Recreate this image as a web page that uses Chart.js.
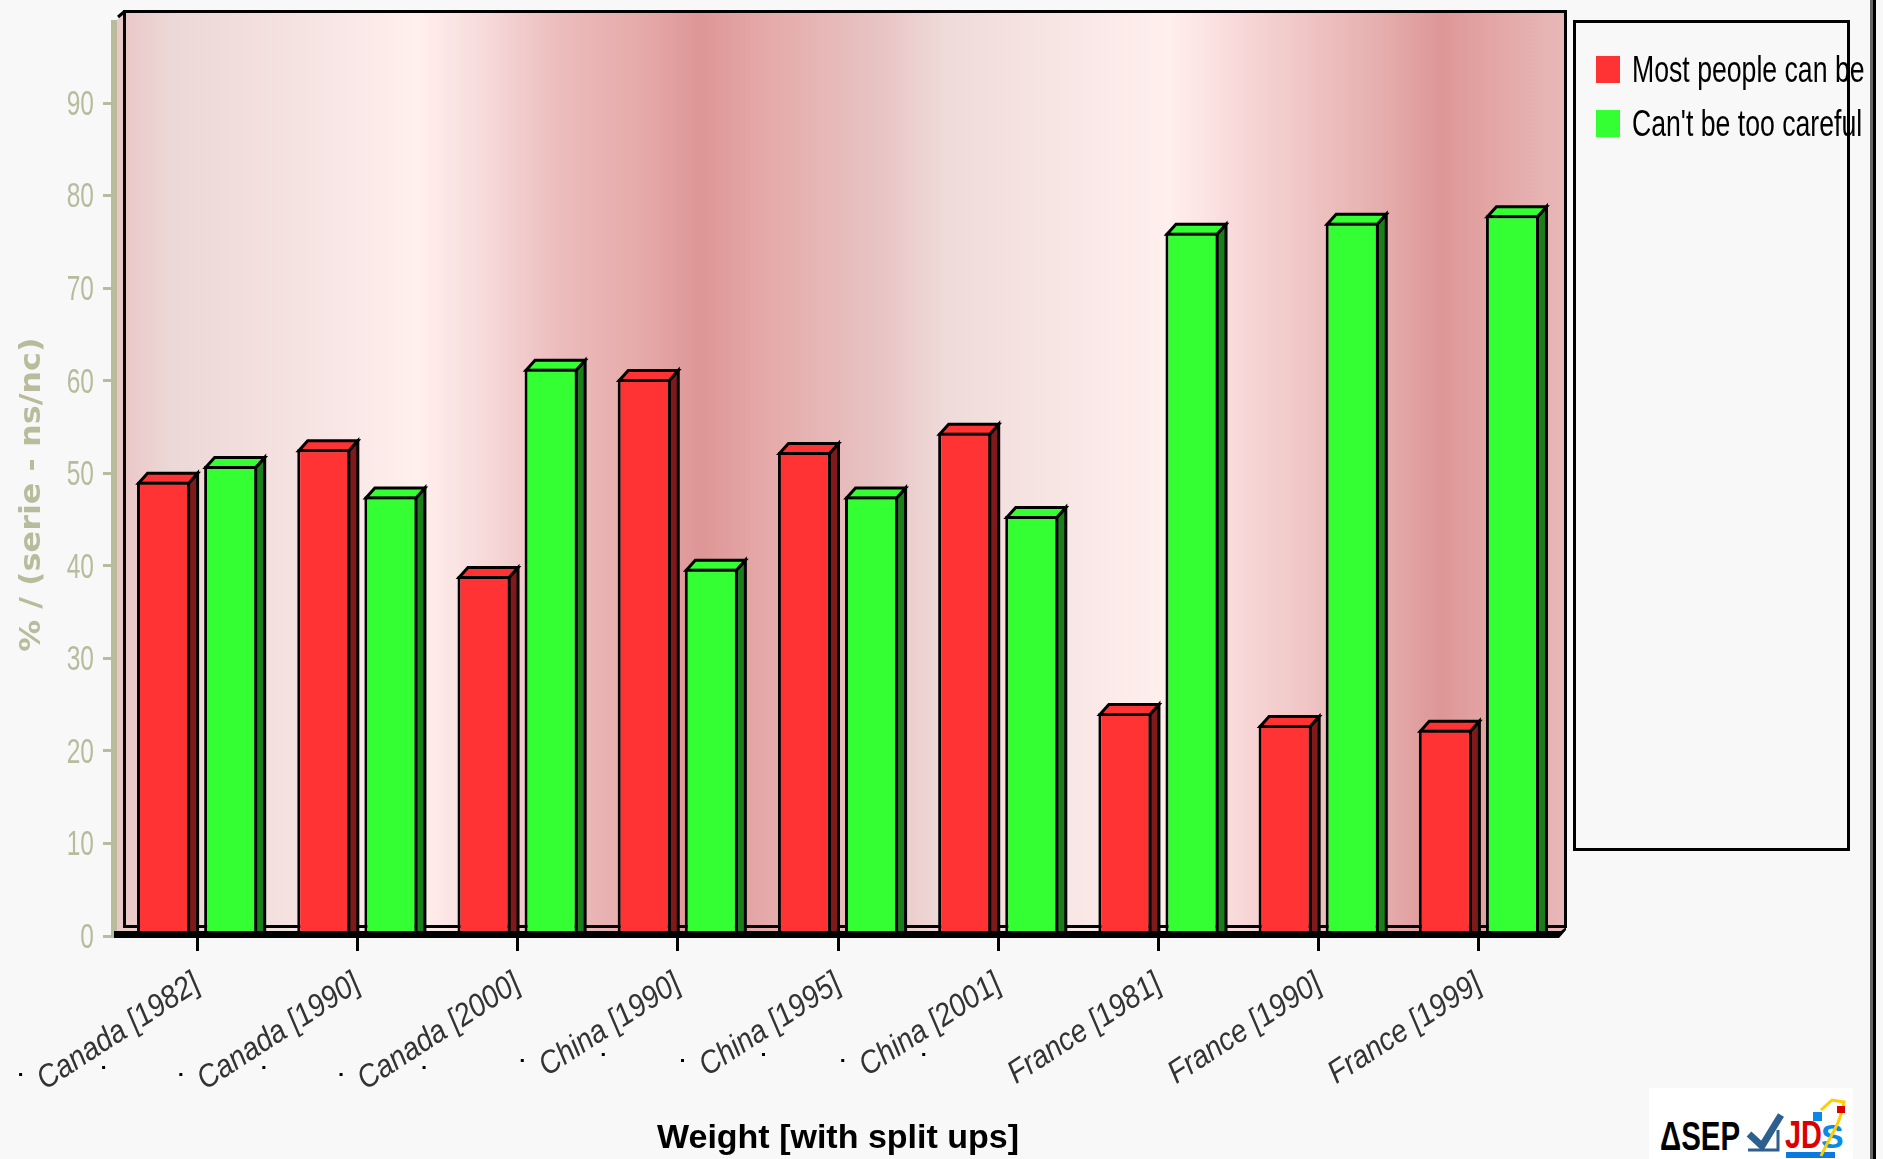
<!DOCTYPE html>
<html>
<head>
<meta charset="utf-8">
<title>Weight [with split ups]</title>
<script src="https://cdn.jsdelivr.net/npm/chart.js@4/dist/chart.umd.js"></script>
<style>
    html, body { margin: 0; padding: 0; background: #f8f8f8; overflow: hidden; }
    #quadro { position: relative; width: 1883px; height: 1159px; }
    #grafico { position: absolute; left: 0; top: 0; }
    #linha-direita { position: absolute; left: 1870px; top: 0; width: 3px; height: 1159px; background: #666; border-right: 3px solid #000; }
    #logo { position: absolute; left: 1649px; top: 1088px; width: 204px; height: 71px; background: #fff; }
</style>
</head>
<body>
<div id="quadro">
    <canvas id="grafico" width="1883" height="1159"></canvas>
    <div id="linha-direita"></div>
    <div id="logo">
        <svg width="204" height="71" viewBox="0 0 204 71">
            <text x="11" y="62" font-family="Liberation Sans" font-weight="bold" font-size="40" textLength="80" lengthAdjust="spacingAndGlyphs">ΔSEP</text>
            <path d="M100 46 L113 58 L132 27" fill="none" stroke="#2d5f8f" stroke-width="7"/>
            <path d="M99 62 H129 V42" fill="none" stroke="#2d5f8f" stroke-width="3"/>
            <text x="136" y="60" font-family="Liberation Sans" font-weight="bold" font-size="38" fill="#dd0000" textLength="37" lengthAdjust="spacingAndGlyphs">JD</text>
            <text x="172" y="60" font-family="Liberation Sans" font-weight="bold" font-size="34" fill="#0a8ae6">S</text>
            <path d="M137 67 H186" stroke="#0a7ae0" stroke-width="6"/>
            <path d="M172 68 C180 50 192 35 195 14 L183 12 L172 22" fill="none" stroke="#ffcc00" stroke-width="3"/>
            <rect x="164" y="24" width="9" height="9" fill="#0a8ae6"/>
            <rect x="188" y="18" width="8" height="7" fill="#dd0000"/>
        </svg>
    </div>
</div>

<script>
const categorias = ["Canada [1982]", "Canada [1990]", "Canada [2000]", "China [1990]", "China [1995]", "China [2001]", "France [1981]", "France [1990]", "France [1999]"];
const nomesSeries = ["Most people can be", "Can't be too careful"];
const valoresConfianca = [49.1, 52.6, 38.9, 60.2, 52.3, 54.4, 24.1, 22.8, 22.3];
const valoresCuidado = [50.8, 47.5, 61.3, 39.7, 47.5, 45.4, 76.0, 77.1, 77.9];
const coresSeries = ["#ff3333", "#33ff33"];
const coresLaterais = ["#7f1a1a", "#1a7f1a"];
const marcasEixoY = [0, 10, 20, 30, 40, 50, 60, 70, 80, 90];
const EIXO_Y_MAX = 99;

const paradasParede = [0, .031, .121, .204, .253, .301, .357, .399, .447, .524, .572, .635, .724, .774, .822, .871, .913, .954, 1];
const coresParede = ["#eac8c8", "#ecd8d6", "#f5e3e2", "#ffefed", "#f6d8d8", "#ecbcbc", "#e6aaaa", "#de9696", "#e6aaaa", "#e8c4c4", "#efdcda", "#f6e4e3", "#ffefed", "#f8d8d8", "#efc4c4", "#e6aeae", "#de9696", "#e4a8a8", "#e8b8b8"];

const COR_EIXO = "#b8bb9c";
const PROF_X = 9;
const PROF_Y = 10;

// pontinhos soltos que aparecem perto dos rotulos (dx a partir do tick, dy a partir da base)
const pontosCanada = [[-178, 137], [-95, 130]];
const pontosChina = [[-157, 123], [-76, 117]];

// nao ha fonte estreita instalada: aperta o texto na horizontal conforme o tamanho da fonte
const escalaFonte = { 36: 0.74, 35: 0.7, 32: 0.89, 29: 1.1 };
const ajusteVertical = { 36: 3, 35: 2 };

const canvas = document.getElementById("grafico");
const contexto = canvas.getContext("2d");
const fillTextOriginal = contexto.fillText.bind(contexto);
contexto.fillText = (texto, x, y) => {
    const tamanho = parseInt(contexto.font.match(/(\d+)px/)[1]);
    const escala = escalaFonte[tamanho];
    if (!escala) return fillTextOriginal(texto, x, y);
    contexto.save();
    contexto.translate(x, y + (ajusteVertical[tamanho] || 0));
    contexto.scale(escala, 1);
    fillTextOriginal(texto, 0, 0);
    contexto.restore();
};

const paredeFundo = {
    id: "paredeFundo",
    beforeDraw(chart) {
        const { ctx, chartArea: a } = chart;
        const topo = a.top - 9;
        const grad = ctx.createLinearGradient(a.left + 9, 0, a.right + 7, 0);
        paradasParede.forEach((p, i) => grad.addColorStop(p, coresParede[i]));

        ctx.save();
        ctx.fillStyle = grad;
        ctx.beginPath();
        ctx.moveTo(a.left, a.top);
        ctx.lineTo(a.left + 9, topo);
        ctx.lineTo(a.right + 7, topo);
        ctx.lineTo(a.right + 7, a.bottom - 9);
        ctx.lineTo(a.right - 2, a.bottom);
        ctx.lineTo(a.left, a.bottom);
        ctx.closePath();
        ctx.fill();

        ctx.strokeStyle = "#000";
        ctx.lineWidth = 3;
        ctx.strokeRect(a.left + 7.5, topo + 0.5, a.right - a.left - 1, a.bottom - 9.5 - topo - 0.5);
        ctx.beginPath();
        ctx.moveTo(a.left + 1, a.top - 3);
        ctx.lineTo(a.left + 7, topo + 1);
        ctx.stroke();

        // caixa da legenda
        ctx.strokeRect(1574.5, 21.5, 274, 828);
        ctx.restore();
    },
    afterLayout(chart) {
        chart.legend.left = 1584;
        chart.legend.right = 1883;
        chart.legend.width = 299;
        chart.legend.top = 33.5;
    }
};

const barras3d = {
    id: "barras3d",
    beforeDatasetsDraw(chart) {
        const { ctx } = chart;
        ctx.save();
        ctx.strokeStyle = "#000";
        ctx.lineWidth = 3;
        ctx.lineJoin = "miter";
        chart.data.datasets.forEach((ds, d) => {
            chart.getDatasetMeta(d).data.forEach(barra => {
                const esq = barra.x - barra.width / 2;
                const dir = barra.x + barra.width / 2;
                const cima = barra.y;
                const base = barra.base;

                ctx.fillStyle = coresLaterais[d];
                ctx.beginPath();
                ctx.moveTo(dir - 1.5, cima + 1.5);
                ctx.lineTo(dir + PROF_X - 1.5, cima - PROF_Y + 1.5);
                ctx.lineTo(dir + PROF_X - 1.5, base);
                ctx.lineTo(dir - 1.5, base);
                ctx.closePath();
                ctx.fill();
                ctx.stroke();

                ctx.fillStyle = coresSeries[d];
                ctx.beginPath();
                ctx.moveTo(esq + 1.5, cima + 1.5);
                ctx.lineTo(esq + PROF_X + 1.5, cima - PROF_Y + 1.5);
                ctx.lineTo(dir + PROF_X - 1.5, cima - PROF_Y + 1.5);
                ctx.lineTo(dir - 1.5, cima + 1.5);
                ctx.closePath();
                ctx.fill();
                ctx.stroke();
            });
        });
        ctx.restore();
    },
    afterDatasetsDraw(chart) {
        const { ctx, chartArea: a, scales } = chart;
        ctx.save();
        // faixa do eixo y
        ctx.fillStyle = COR_EIXO;
        ctx.fillRect(a.left - 6, a.top, 6, a.bottom - a.top);
        // piso
        ctx.fillStyle = "#000";
        ctx.beginPath();
        ctx.moveTo(a.left - 3, a.bottom - 5);
        ctx.lineTo(a.right + 2, a.bottom - 5);
        ctx.lineTo(a.right + 7, a.bottom - 9);
        ctx.lineTo(a.right + 7, a.bottom - 6);
        ctx.lineTo(a.right, a.bottom + 2);
        ctx.lineTo(a.left - 3, a.bottom + 2);
        ctx.closePath();
        ctx.fill();
        // pontinhos
        categorias.forEach((c, i) => {
            const pontos = c.startsWith("Canada") ? pontosCanada : c.startsWith("China") ? pontosChina : [];
            pontos.forEach(([dx, dy]) => ctx.fillRect(scales.x.getPixelForTick(i) + dx, a.bottom + dy, 3, 3));
        });
        ctx.restore();
    }
};

new Chart(canvas, {
    type: "bar",
    data: {
        labels: categorias,
        datasets: [
            { label: nomesSeries[0], data: valoresConfianca, backgroundColor: coresSeries[0], borderColor: "#000", borderWidth: 3, borderSkipped: false },
            { label: nomesSeries[1], data: valoresCuidado, backgroundColor: coresSeries[1], borderColor: "#000", borderWidth: 3, borderSkipped: false }
        ]
    },
    options: {
        responsive: false,
        animation: false,
        devicePixelRatio: 1,
        categoryPercentage: 0.8375,
        barPercentage: 0.791,
        layout: { padding: { top: 20, right: 74, bottom: 0, left: 0 } },
        scales: {
            x: {
                afterFit: s => { s.height = 223; },
                grid: { offset: false, drawOnChartArea: false, drawTicks: true, tickLength: 15, tickWidth: 3, tickColor: "#000" },
                border: { display: false },
                ticks: {
                    autoSkip: false, minRotation: 33, maxRotation: 33, padding: 14, color: "#333",
                    font: { family: "Liberation Sans", style: "italic", size: 32 }
                },
                title: {
                    display: true, text: "Weight [with split ups]", color: "#000",
                    font: { family: "Liberation Sans", weight: "bold", size: 34, lineHeight: 1 },
                    padding: { top: 0, bottom: 3 }
                }
            },
            y: {
                min: 0,
                max: EIXO_Y_MAX,
                afterFit: s => { s.width = 117; s.paddingTop = 0; s.paddingBottom = 0; },
                afterBuildTicks: s => { s.ticks = marcasEixoY.map(v => ({ value: v })); },
                grid: { drawOnChartArea: false, drawTicks: true, tickLength: 14, tickWidth: 3, tickColor: COR_EIXO },
                border: { display: false },
                ticks: {
                    padding: 9, color: COR_EIXO,
                    font: { family: "Liberation Sans", size: 35 }
                },
                title: {
                    display: true, text: "% / (serie - ns/nc)\u00a0\u00a0\u00a0", color: COR_EIXO,
                    font: { family: "DejaVu Sans", weight: "bold", size: 29, lineHeight: 1.2 },
                    padding: { top: 15, bottom: 0 }
                }
            }
        },
        plugins: {
            tooltip: { enabled: false },
            legend: {
                position: "right",
                align: "start",
                maxWidth: 250,
                labels: {
                    boxWidth: 12,
                    boxHeight: 15,
                    padding: 18,
                    color: "#000",
                    font: { family: "Liberation Sans", size: 36 },
                    generateLabels: chart => chart.data.datasets.map((ds, i) => ({
                        text: ds.label,
                        fillStyle: coresSeries[i],
                        strokeStyle: coresSeries[i],
                        lineWidth: 12,
                        datasetIndex: i
                    }))
                }
            }
        }
    },
    plugins: [paredeFundo, barras3d]
});
</script>
</body>
</html>
